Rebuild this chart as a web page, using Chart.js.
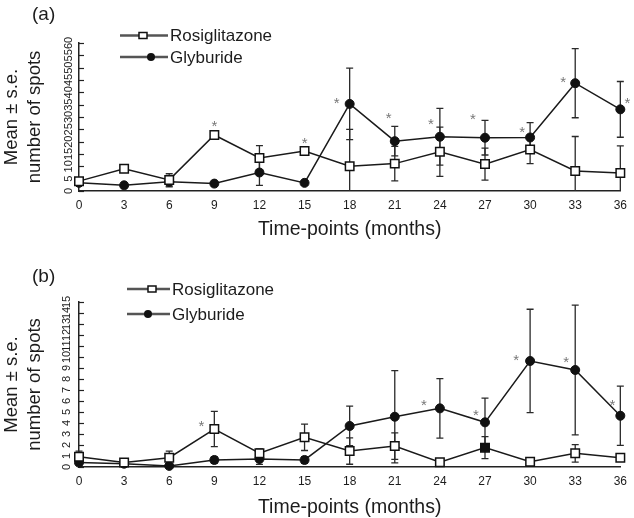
<!DOCTYPE html>
<html>
<head>
<meta charset="utf-8">
<script src="https://cdn.jsdelivr.net/npm/chart.js@4/dist/chart.umd.min.js"></script>
<style>
  body { margin: 0; background: #fff; }
  canvas { position: absolute; left: 0; }
  #chartA { top: 0; }
  #chartB { top: 240px; }
</style>
</head>
<body>
<canvas id="chartA" width="634" height="240"></canvas>
<canvas id="chartB" width="634" height="278"></canvas>
<script>
// time-points (months)
const months = [0, 3, 6, 9, 12, 15, 18, 21, 24, 27, 30, 33, 36];

// panel (a)
const rosiA    = [4, 9, 4.5, 22.7, 13.4, 16.2, 10, 11.1, 15.9, 10.9, 16.8, 8.1, 7.3];
const rosiErrA = [1, 1, 2.5, 1, 5, 1.5, 15, 7, 10, 6.5, 5.7, 14, 11];
const glybA    = [3.3, 2.3, 3.7, 3, 7.5, 3.3, 35.3, 20.2, 22, 21.6, 21.7, 43.7, 33.1];
const glybErrA = [1, 1, 2, 1, 5.2, 1, 14.5, 6, 11.5, 7, 6, 14, 11.3];
const starMonthsA = [9, 15, 18, 21, 24, 27, 30, 33, 36];
const starSeriesA = [0, 0, 1, 1, 1, 1, 1, 1, 1];

// panel (b)
const rosiB    = [0.94, 0.4, 0.85, 3.45, 1.25, 2.7, 1.45, 1.9, 0.43, 1.76, 0.48, 1.24, 0.85];
const rosiErrB = [0.5, 0.1, 0.6, 1.6, 0.4, 1.2, 1.2, 1.2, 0.1, 1.0, 0.1, 0.8, 0.2];
const glybB    = [0.4, 0.3, 0.1, 0.64, 0.73, 0.64, 3.73, 4.57, 5.33, 4.06, 9.64, 8.82, 4.66];
const glybErrB = [0.2, 0.1, 0.1, 0.3, 0.5, 0.3, 1.8, 4.2, 2.7, 2.2, 4.7, 5.9, 2.7];
const starMonthsB = [9, 24, 27, 30, 33, 36];
const starSeriesB = [0, 1, 1, 1, 1, 1];

const seriesNames = ['Rosiglitazone', 'Glyburide'];
const FONT = '"Liberation Sans", Arial, sans-serif';
const INK = '#1c1c1c';

// error bars, inward y ticks + rotated labels, asterisks, legend and panel letter
const decoPlugin = {
  id: 'deco',
  beforeDatasetsDraw(chart, args, o) {
    const ctx = chart.ctx, x = chart.scales.x, y = chart.scales.y;
    ctx.save();
    ctx.strokeStyle = '#2a2a2a';
    ctx.lineWidth = 1.3;
    chart.data.datasets.forEach(ds => {
      ds.data.forEach((p, i) => {
        const e = ds.errors[i];
        const px = x.getPixelForValue(p.x);
        const top = y.getPixelForValue(p.y + e);
        const bot = y.getPixelForValue(Math.max(p.y - e, 0));
        ctx.beginPath();
        ctx.moveTo(px, top); ctx.lineTo(px, bot);
        ctx.moveTo(px - 3.5, top); ctx.lineTo(px + 3.5, top);
        if (p.y - e > 0) { ctx.moveTo(px - 3.5, bot); ctx.lineTo(px + 3.5, bot); }
        ctx.stroke();
      });
    });
    // inward tick marks on the y axis
    ctx.strokeStyle = '#222';
    ctx.lineWidth = 1.2;
    y.ticks.forEach(t => {
      const py = Math.round(y.getPixelForValue(t.value)) + 0.5;
      ctx.beginPath();
      ctx.moveTo(chart.chartArea.left, py); ctx.lineTo(chart.chartArea.left + 5, py);
      ctx.stroke();
    });
    ctx.restore();
  },
  afterDraw(chart, args, o) {
    const ctx = chart.ctx, x = chart.scales.x, y = chart.scales.y;
    ctx.save();
    // y tick labels, rotated
    ctx.fillStyle = INK;
    ctx.font = '11px ' + FONT;
    ctx.textAlign = 'center';
    ctx.textBaseline = 'middle';
    y.ticks.forEach(t => {
      ctx.save();
      ctx.translate(o.yLabelX, y.getPixelForValue(t.value));
      ctx.rotate(-Math.PI / 2);
      ctx.fillText(String(t.value), 0, 0);
      ctx.restore();
    });
    // asterisks
    ctx.fillStyle = '#777';
    ctx.font = '15px ' + FONT;
    o.starMonths.forEach((m, k) => {
      const ds = chart.data.datasets[o.starSeries[k]];
      const p = ds.data.find(d => d.x === m);
      const off = o.starOffsets[k];
      ctx.fillText('*', x.getPixelForValue(m) + off[0], y.getPixelForValue(p.y) + off[1]);
    });
    // legend
    ctx.font = '17px ' + FONT;
    ctx.textAlign = 'left';
    chart.data.datasets.forEach((ds, i) => {
      const ly = o.legendY[i];
      ctx.strokeStyle = '#555';
      ctx.lineWidth = 2.5;
      ctx.beginPath();
      ctx.moveTo(o.legendX[0], ly); ctx.lineTo(o.legendX[1], ly);
      ctx.stroke();
      ctx.lineWidth = 1.5;
      ctx.strokeStyle = '#111';
      const mx = o.legendMarkX[i];
      if (i === 0) {
        ctx.fillStyle = '#fff';
        ctx.fillRect(mx - 4, ly - 3, 8, 6);
        ctx.strokeRect(mx - 4, ly - 3, 8, 6);
      } else {
        ctx.fillStyle = '#111';
        ctx.beginPath();
        ctx.arc(mx, ly, 4, 0, Math.PI * 2);
        ctx.fill();
      }
      ctx.fillStyle = INK;
      ctx.fillText(ds.label, o.legendX[1] + 2, ly + 1);
    });
    // panel letter
    ctx.font = '19px ' + FONT;
    ctx.fillText(o.letter, 32, o.letterY);
    ctx.restore();
  }
};

function makePanel(id, rosi, rosiErr, glyb, glybErr, yMax, padTop, xHeight, rosiFill, decoOpts) {
  return new Chart(document.getElementById(id), {
    type: 'line',
    data: {
      datasets: [
        {
          label: seriesNames[0],
          data: months.map((m, i) => ({ x: m, y: rosi[i] })),
          errors: rosiErr,
          borderColor: '#1a1a1a',
          borderWidth: 1.5,
          pointStyle: 'rect',
          pointRadius: 6,
          pointBorderWidth: 1.5,
          pointBorderColor: '#111',
          pointBackgroundColor: rosiFill,
          tension: 0,
          clip: false
        },
        {
          label: seriesNames[1],
          data: months.map((m, i) => ({ x: m, y: glyb[i] })),
          errors: glybErr,
          borderColor: '#1a1a1a',
          borderWidth: 1.5,
          pointStyle: 'circle',
          pointRadius: 4.5,
          pointBorderWidth: 1,
          pointBorderColor: '#111',
          pointBackgroundColor: '#111',
          tension: 0,
          clip: false
        }
      ]
    },
    options: {
      responsive: false,
      animation: false,
      events: [],
      layout: { padding: { top: padTop, right: 13, left: 0, bottom: 0 } },
      plugins: { legend: { display: false }, tooltip: { enabled: false }, deco: decoOpts },
      scales: {
        x: {
          type: 'linear', min: 0, max: 36,
          ticks: { stepSize: 3, padding: 7, color: INK, font: { family: FONT, size: 12 } },
          grid: { display: false, drawTicks: false },
          border: { display: true, color: '#222', width: 1.5 },
          title: { display: true, text: 'Time-points (months)', color: INK,
                   font: { family: FONT, size: 19.5, lineHeight: 1.1 }, padding: { top: 0, bottom: 0 } },
          afterFit: s => { s.height = xHeight; }
        },
        y: {
          type: 'linear', min: 0, max: yMax,
          ticks: { display: false, stepSize: yMax === 60 ? 5 : 1 },
          grid: { display: false, drawTicks: false },
          border: { display: true, color: '#222', width: 1.5 },
          title: { display: true, text: ['Mean \u00b1 s.e.', 'number of spots'], color: INK,
                   font: { family: FONT, size: 18.5, lineHeight: 1.25 }, padding: { top: 0.5 } },
          afterFit: s => { s.width = 79; }
        }
      }
    },
    plugins: [decoPlugin]
  });
}

makePanel('chartA', rosiA, rosiErrA, glybA, glybErrA, 60, 43, 49, '#fff', {
  yLabelX: 69,
  starMonths: starMonthsA, starSeries: starSeriesA,
  starOffsets: [[0, -8], [0, -7], [-13, 0], [-6, -22], [-9, -12], [-12, -18], [-8, -5], [-12, 0], [7, -5]],
  legendY: [35.5, 57], legendX: [120, 168], legendMarkX: [143, 151],
  letter: '(a)', letterY: 15
});

makePanel('chartB', rosiB, rosiErrB, glybB, glybErrB, 15, 62, 51,
  months.map((m, i) => i === 9 ? '#111' : '#fff'), {
  yLabelX: 67,
  starMonths: starMonthsB, starSeries: starSeriesB,
  starOffsets: [[-13, -2], [-16, -3], [-9, -6], [-14, 0], [-9, -7], [-8, -10]],
  legendY: [49, 74], legendX: [127, 170], legendMarkX: [152, 148],
  letter: '(b)', letterY: 37
});
</script>
</body>
</html>
